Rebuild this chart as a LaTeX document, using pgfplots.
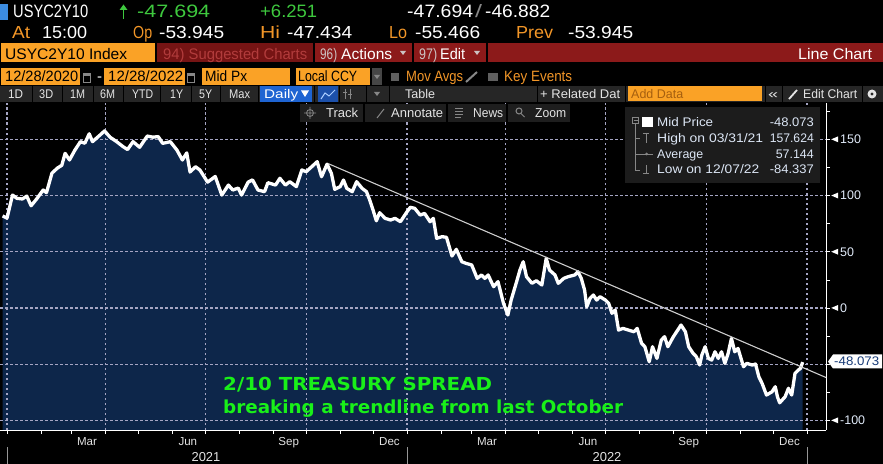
\documentclass[border=0pt]{standalone}
\usepackage{pgfplots}
\pgfplotsset{compat=1.18}
\usepackage{pgfplotstable}
\usepackage{graphicx}
\usepackage{fontspec}
\setmainfont{Liberation Sans}
\newfontfamily\dv{DejaVu Sans}
\definecolor{bbor}{RGB}{250,162,38}
\definecolor{bbortx}{RGB}{242,150,40}
\definecolor{bbgr}{RGB}{62,200,62}
\definecolor{anngr}{RGB}{25,240,25}
\definecolor{bbred}{RGB}{140,26,26}
\definecolor{bbred2}{RGB}{118,20,20}
\definecolor{bbdim}{RGB}{178,60,60}
\definecolor{lgray}{RGB}{205,195,195}
\definecolor{rowgray}{RGB}{38,38,38}
\definecolor{ddgray}{RGB}{70,70,70}
\definecolor{sqgray}{RGB}{95,95,95}
\definecolor{btn6}{RGB}{30,30,30}
\definecolor{btn}{RGB}{228,228,228}
\definecolor{bbblue}{RGB}{30,100,210}
\definecolor{bbblue2}{RGB}{28,80,170}
\definecolor{iconblue}{RGB}{170,205,255}
\definecolor{sqblue}{RGB}{60,140,225}
\definecolor{dimor}{RGB}{165,95,15}
\definecolor{navyfill}{RGB}{13,38,74}
\definecolor{gridc}{RGB}{165,165,195}
\definecolor{lbl}{RGB}{225,235,250}
\definecolor{legbg}{RGB}{28,28,28}
\definecolor{legtx}{RGB}{220,230,245}
\definecolor{icg}{RGB}{135,135,135}
\definecolor{tagtx}{RGB}{25,60,120}
\definecolor{trend}{RGB}{205,205,205}
\definecolor{sepg}{RGB}{150,150,150}
\newcommand\T[6]{\node[anchor=base west,inner sep=0pt,text=#4,font=\fontsize{#5}{#5}\selectfont] at (#1,#2) {\resizebox{#3bp}{\height}{#6}};}
\newcommand\TR[6]{\node[anchor=base east,inner sep=0pt,text=#4,font=\fontsize{#5}{#5}\selectfont] at (#1,#2) {\resizebox{#3bp}{\height}{#6}};}
\newcommand\dtri[3]{\fill[#3] ({#1-3},{#2-2}) -- ({#1+3},{#2-2}) -- (#1,{#2+2}) -- cycle;}
\newcommand\tri{\tikz[baseline={(0,-4.4bp)}]\fill[white] (0,0) -- (7bp,3bp) -- (7bp,-3bp) -- cycle;\hspace{2bp}}
\tikzset{gridst/.style={draw=gridc, line width=1.2bp, dash pattern=on 2.5bp off 2.5bp}}
\pgfplotstableread{
d v
-4 81.9
0 80
5 100.5
9 97.6
14 97
18 99.6
22 91
27 97
33 105
36 102.6
41 120
46 124.5
50 127
53 137.6
57 131.7
62 140.6
67 148
71 146.6
75 155
78 148
85 154
89 157.6
94 152
100 148
106 143.5
110 141
115 148
121 143
128 153
133 152
138 152.5
142 146.5
149 148
155 140.6
160 131.7
164 138
167 121
172 125.7
176 122.8
183 112
190 117
196 100.5
202 109.4
206 105
211 106.7
214 100.5
220 112
224 114
229 105
235 103.5
238 111.5
245 109.4
249 115.4
254 109.4
258 112.4
264 108
269 122.8
273 121.3
278 125.7
283 130.2
287 116.8
292 128
296 119.8
299 105.6
304 108
307 113.9
310 106.5
315 103.5
319 112.4
324 106.5
328 103.5
331 96
334 87.2
337 77.6
340 84.8
345 79.8
350 78.3
354 79.8
359 76.8
362 81.3
365 85.7
368 89.6
372 88.7
377 82.7
381 84.2
386 76.8
389 79.8
392 62
397 63.5
401 62.9
406 46.3
410 52.2
415 41.2
419 39.7
424 38.3
429 26.4
433 29.4
436 26.4
439 29.4
444 19
448 23.5
453 4.2
457 -6.2
460 7.1
465 23.5
468 33.8
471 41.2
474 27.9
479 22
483 24.3
488 20.5
492 44.2
495 33.8
500 29.4
503 22
508 26.4
512 27.9
518 29.4
521 32.3
524 26.4
527 16
529 1.2
532 8.6
535 11.6
538 7.1
541 10.1
546 7.1
549 4.2
552 -4.7
555 -1.8
558 -19.6
562 -18.1
567 -19.6
572 -21.1
575 -18.1
579 -31.4
582 -34.4
586 -47.8
589 -34.4
593 -44.8
597 -28.5
600 -25.5
603 -34.4
608 -25.5
611 -21.1
615 -15.1
619 -21.1
622 -34.4
626 -40.3
629 -43.3
632 -50.7
634 -41.8
637 -34.4
640 -44.8
643 -46.3
646 -38.9
649 -44.8
652 -38.9
655 -49.2
658 -40.3
661 -27
664 -38.9
667 -35.9
672 -52.2
675 -49.2
680 -50.7
683 -49.8
686 -61.1
689 -67.1
693 -77.4
698 -74.5
701 -70
703 -79
705 -84.3
710 -78.9
713 -71.4
716 -77.4
719 -58.1
722 -55.2
724 -53.7
726 -48.1
}\spread
\begin{document}
\begin{tikzpicture}[x=1bp,y=-1bp]
\path[use as bounding box] (0,0) rectangle (883,464);
\fill[black] (0,0) rectangle (883,464);
% fill under the curve
\begin{axis}[at={(0bp,-430bp)}, anchor=south west, scale only axis,
  width=826bp, height=327bp,
  xmin=-6.4, xmax=747.3, ymin=-108.5, ymax=182.4, hide axis]
\addplot[fill=navyfill, draw=none] table[x=d,y=v]{\spread} |- (axis cs:-4,-108.5) -- cycle;
\end{axis}
% grid, axes, line
\begin{axis}[at={(0bp,-430bp)}, anchor=south west, scale only axis,
  width=826bp, height=327bp,
  xmin=-6.4, xmax=747.3, ymin=-108.5, ymax=182.4,
  axis x line*=bottom, axis y line*=right,
  axis line style={white, line width=0.9bp},
  tick style={white, line width=0.8bp},
  tick align=outside, major tick length=4bp, minor tick length=4bp,
  xtick={0,90,181,273,365,455,546,638,730}, xticklabel={},
  minor xtick={31,59,120,151,212,243,304,334,396,424,485,516,577,608,669,699},
  extra x ticks={73,165,257,349,438,530,622,714},
  extra x tick labels={Mar,Jun,Sep,Dec,Mar,Jun,Sep,Dec},
  extra x tick style={major tick length=0pt,
     xticklabel style={anchor=base, inner sep=0pt, yshift=-15bp,
       font=\fontsize{11.6}{11.6}\selectfont, text=btn}},
  ytick={-100,-50,0,50,100,150},
  yticklabels={\tri-100,{},\tri0,\tri50,\tri100,\tri150},
  minor ytick={-75,-25,25,75,125,175},
  yticklabel style={anchor=west, inner sep=0pt, xshift=1bp,
     font=\fontsize{12.5}{12.5}\selectfont, text=lbl},
]
\pgfplotsinvokeforeach{0,90,181,273,365,455,546,638,730}{
  \draw[gridst] (axis cs:#1,-108.5) -- (axis cs:#1,182.4);
}
\pgfplotsinvokeforeach{-100,-50,0,50,100,150}{
  \draw[gridst] (axis cs:-6.4,#1) -- (axis cs:747.3,#1);
}
\addplot[white, line width=3.3bp, line join=round] table[x=d,y=v]{\spread};
\addplot[trend, line width=1.1bp] coordinates {(293,128.5) (747.3,-61.8)};
\end{axis}
% ---- header row 1
\fill[sqblue] (0,4) rectangle (8,20);
\T{13}{18}{75}{white}{18}{USYC2Y10}
\draw[bbgr, line width=1.3bp] (123.5,19) -- (123.5,8);
\fill[bbgr] (119.5,10) -- (123.5,4.5) -- (127.5,10) -- cycle;
\T{137}{18}{73}{bbgr}{18}{-47.694}
\T{260}{18}{57}{bbgr}{18}{+6.251}
\T{407}{18}{66}{white}{18}{-47.694}
\T{475}{18}{7}{icg}{18}{/}
\T{485}{18}{65}{white}{18}{-46.882}
% ---- row 2
\T{12}{39}{18}{bbortx}{17.5}{At}
\T{42}{39}{45}{white}{17.5}{15:00}
\T{133}{39}{19}{bbortx}{17.5}{Op}
\T{159}{39}{65}{white}{17.5}{-53.945}
\T{260}{39}{20}{bbortx}{17.5}{Hi}
\T{287}{39}{65}{white}{17.5}{-47.434}
\T{389}{39}{18}{bbortx}{17.5}{Lo}
\T{415}{39}{65}{white}{17.5}{-55.466}
\T{516}{39}{37}{bbortx}{17.5}{Prev}
\T{568}{39}{65}{white}{17.5}{-53.945}
% ---- row 3
\fill[bbor] (1,43) rectangle (155,62);
\T{5}{59.3}{122}{black}{15.4}{USYC2Y10 Index}
\fill[bbred2] (157,43) rectangle (313,62);
\T{163}{59.3}{144}{bbdim}{15.4}{94) Suggested Charts}
\fill[bbred] (315,43) rectangle (412,62);
\T{320}{59.3}{17}{lgray}{15.4}{96)}
\T{341}{59.3}{51}{white}{15.4}{Actions}
\dtri{403}{53}{lgray}
\fill[bbred] (414,43) rectangle (486,62);
\T{419}{59.3}{18}{lgray}{15.4}{97)}
\T{440}{59.3}{25}{white}{15.4}{Edit}
\dtri{477}{53}{lgray}
\fill[bbred] (488,43) rectangle (883,62);
\T{798}{59.3}{74}{white}{15.4}{Line Chart}
% ---- row 4
\fill[bbor] (1,68) rectangle (80,85);
\T{5}{81.7}{73}{black}{15}{12/28/2020}
\draw[icg, line width=1bp] (83.5,73.5) rectangle (90.5,82.5); \fill[icg] (83.5,73.5) rectangle (90.5,76);
\T{97}{81.7}{5}{white}{15}{-}
\fill[bbor] (104,68) rectangle (185,85);
\T{108}{81.7}{75}{black}{15}{12/28/2022}
\draw[icg, line width=1bp] (187.5,73.5) rectangle (194.5,82.5); \fill[icg] (187.5,73.5) rectangle (194.5,76);
\fill[bbor] (202,68) rectangle (290,85);
\T{205}{81.7}{42}{black}{15}{Mid Px}
\fill[bbor] (296,68) rectangle (370,85);
\T{298}{81.7}{59}{black}{15}{Local CCY}
\fill[ddgray] (372,68) rectangle (382,85);
\dtri{377}{77}{icg}
\fill[sqgray] (391,73) rectangle (399,81);
\T{406}{81.7}{57}{bbortx}{15}{Mov Avgs}
\draw[icg, line width=2bp] (466,82) -- (477,72);
\fill[sqgray] (488,73) rectangle (498,81);
\T{504}{81.7}{68}{bbortx}{15}{Key Events}
% ---- row 5
\fill[rowgray] (0,86) rectangle (883,102);
\foreach \s in {32,62,93,123,160,191,220,258,314,339,366,389,537,625,765,782,862}
  \draw[black, line width=1bp] (\s,86) -- (\s,102);
\T{8}{98.3}{15}{btn}{12.6}{1D}
\T{39}{98.3}{14}{btn}{12.6}{3D}
\T{70}{98.3}{15}{btn}{12.6}{1M}
\T{100}{98.3}{15}{btn}{12.6}{6M}
\T{132}{98.3}{21}{btn}{12.6}{YTD}
\T{170}{98.3}{13}{btn}{12.6}{1Y}
\T{199}{98.3}{13}{btn}{12.6}{5Y}
\T{229}{98.3}{21}{btn}{12.6}{Max}
\fill[bbblue] (260,86) rectangle (312,102);
\T{264}{98.3}{34}{white}{12.6}{Daily}
\fill[white] (301,90.5) -- (309,90.5) -- (305,97) -- cycle;
\fill[bbblue2] (318,86) rectangle (338,102);
\draw[iconblue, line width=1bp] (321,99) -- (325,93) -- (329,96) -- (335,90);
\draw[icg, line width=1bp] (345,89) -- (345,99) (350,89) -- (350,99) (343,93) -- (347,93) (348,95) -- (352,95);
\dtri{377}{94}{icg}
\T{405}{98.3}{30}{btn}{12.6}{Table}
\T{540}{98.3}{80}{btn}{12.6}{+ Related Dat}
\fill[bbor] (628,86) rectangle (762,101);
\T{631}{98.3}{52}{dimor}{12.6}{Add Data}
\T{768}{98.3}{10}{btn}{12.6}{«}
\draw[btn, line width=1.8bp] (789,99) -- (797,90);
\T{803}{98.3}{54}{btn}{12.6}{Edit Chart}
\fill[btn] (872,94) circle (4.5);
\fill[rowgray] (872,94) circle (1.6);
% ---- row 6
\fill[btn6] (300,104) rectangle (363,122);
\fill[btn6] (365,104) rectangle (446,122);
\fill[btn6] (448,104) rectangle (506,122);
\fill[btn6] (508,104) rectangle (570,122);
\draw[icg, line width=0.8bp] (310,113) circle (3.5) (304,113) -- (316,113) (310,107) -- (310,119);
\draw[icg, line width=1bp] (377,118) -- (384,109);
\draw[icg, line width=1bp] (455,109) -- (463,109) (455,112) -- (463,112) (455,115) -- (463,115) (455,118) -- (461,118);
\draw[icg, line width=1bp] (519,111) circle (3) (521,113.5) -- (524.5,117);
\T{326}{117.3}{32}{btn}{13}{Track}
\T{391}{117.3}{52}{btn}{13}{Annotate}
\T{473}{117.3}{30}{btn}{13}{News}
\T{535}{117.3}{31}{btn}{13}{Zoom}
% ---- statistics box
\fill[legbg] (625,107) rectangle (820,183);
\draw[icg, line width=0.8bp] (632.5,117.5) rectangle (638.5,123.5) (633.5,120.5) -- (637.5,120.5);
\fill[white] (642,117) rectangle (653,127);
\draw[icg, line width=0.8bp] (635.5,123.5) -- (635.5,170) -- (640,170) (635.5,138) -- (640,138) (635.5,154) -- (640,154);
\draw[icg, line width=0.8bp] (646,133) -- (646,143) (643,133) -- (649,133);
\draw[icg, line width=0.8bp] (640,154) -- (653,154); \fill[icg] (646.5,154) circle (1.5);
\draw[icg, line width=0.8bp] (646,165) -- (646,173) (643,173) -- (649,173);
\T{657}{126.7}{56}{legtx}{12.5}{Mid Price}
\TR{814}{126.7}{44}{legtx}{12.5}{-48.073}
\T{657}{142.3}{106}{legtx}{12.5}{High on 03/31/21}
\TR{814}{142.3}{44}{legtx}{12.5}{157.624}
\T{657}{158.3}{46}{legtx}{12.5}{Average}
\TR{814}{158.3}{38}{legtx}{12.5}{57.144}
\T{657}{174}{102}{legtx}{12.5}{Low on 12/07/22}
\TR{814}{174}{44}{legtx}{12.5}{-84.337}
% ---- last value tag
\fill[white] (828,361.6) -- (833,354.5) -- (882,354.5) -- (882,368.5) -- (833,368.5) -- cycle;
\T{834}{366}{45}{tagtx}{12.5}{-48.073}
% ---- years
\node[anchor=base, inner sep=0pt, text=btn, font=\fontsize{13}{13}\selectfont] at (206,461) {2021};
\node[anchor=base, inner sep=0pt, text=btn, font=\fontsize{13}{13}\selectfont] at (607,461) {2022};
\draw[sepg, line width=0.8bp] (7,447) -- (7,464) (407,447) -- (407,464) (807,447) -- (807,464);
% ---- annotation
\node[anchor=base west, inner sep=0pt, text=anngr, font=\dv\bfseries\fontsize{18}{18}\selectfont] at (223,390) {\resizebox{269bp}{\height}{2/10 TREASURY SPREAD}};
\node[anchor=base west, inner sep=0pt, text=anngr, font=\dv\bfseries\fontsize{18}{18}\selectfont] at (223,413.3) {\resizebox{400bp}{\height}{breaking a trendline from last October}};
\end{tikzpicture}
\end{document}
